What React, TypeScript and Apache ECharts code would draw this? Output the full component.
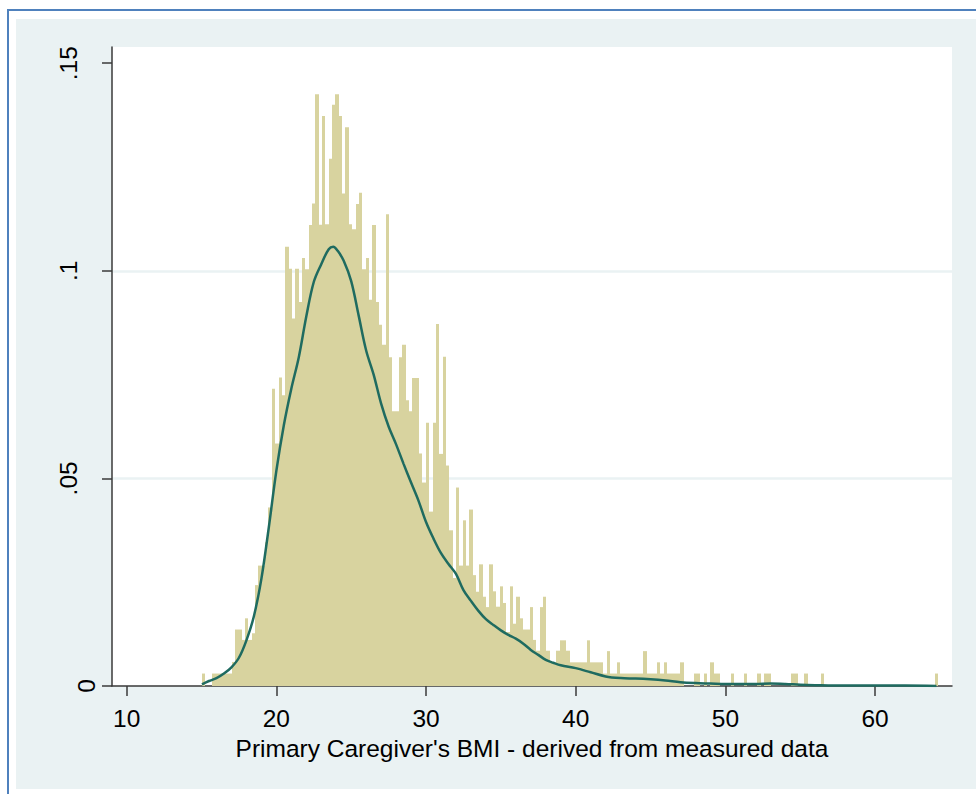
import React, { useEffect, useRef } from "react";
import * as echarts from "echarts";

// Histogram of primary caregiver BMI (density scale) with kernel density overlay.
const binStart = 15.0;
const binWidth = 0.2237;

const density = [
  0.0030, 0, 0, 0.0030, 0.0030, 0.0030, 0.0030, 0.0030, 0.0030, 0.0058,
  0.0136, 0.0136, 0.0111, 0.0163, 0.0111, 0.0127, 0.0243, 0.0290, 0.0290, 0.0346,
  0.0430, 0.0716, 0.0584, 0.0743, 0.0700, 0.1058, 0.1005, 0.0885, 0.1005, 0.0925,
  0.1031, 0.1004, 0.1110, 0.1162, 0.1425, 0.1111, 0.1373, 0.1112, 0.1270, 0.1400,
  0.1425, 0.1373, 0.1186, 0.1346, 0.1112, 0.1100, 0.1161, 0.1188, 0.1004, 0.1031,
  0.0930, 0.1110, 0.0925, 0.0870, 0.0822, 0.1136, 0.0792, 0.0662, 0.0662, 0.0792,
  0.0822, 0.0688, 0.0662, 0.0742, 0.0742, 0.0560, 0.0490, 0.0634, 0.0420, 0.0634,
  0.0872, 0.0559, 0.0793, 0.0531, 0.0375, 0.0260, 0.0478, 0.0290, 0.0399, 0.0290,
  0.0425, 0.0267, 0.0227, 0.0293, 0.0215, 0.0190, 0.0293, 0.0228, 0.0191, 0.0240,
  0.0200, 0.0130, 0.0240, 0.0150, 0.0215, 0.0163, 0.0136, 0.0136, 0.0190, 0.0111,
  0.0085, 0.0190, 0.0215, 0.0085, 0.0057, 0.0057, 0.0085, 0.0110, 0.0110, 0.0085,
  0.0057, 0.0057, 0.0057, 0.0057, 0.0057, 0.0110, 0.0057, 0.0057, 0.0057, 0.0057,
  0.0030, 0.0084, 0.0030, 0.0030, 0.0057, 0.0030, 0.0030, 0.0030, 0.0030, 0.0030,
  0.0030, 0.0030, 0.0084, 0.0030, 0.0030, 0.0030, 0.0057, 0.0030, 0.0057, 0.0030,
  0.0030, 0.0030, 0.0030, 0.0057, 0, 0, 0, 0.0030, 0.0030, 0,
  0.0030, 0, 0.0057, 0.0030, 0.0030, 0, 0, 0, 0.0030, 0,
  0, 0, 0.0030, 0, 0, 0, 0.0030, 0, 0.0030, 0.0030,
  0, 0, 0, 0, 0, 0, 0.0030, 0.0030, 0, 0,
  0.0030, 0, 0, 0, 0, 0.0030, 0, 0, 0, 0,
  0, 0, 0, 0, 0, 0, 0, 0, 0, 0,
  0, 0, 0, 0, 0, 0, 0, 0, 0, 0,
  0, 0, 0, 0, 0, 0, 0, 0, 0, 0.0030,
];

// Kernel density estimate, sampled along BMI.
const kdeX = [
  15.03, 15.5, 16.0, 16.5, 17.0, 17.5, 18.0, 18.5, 19.0, 19.5,
  20.0, 20.5, 21.0, 21.5, 22.0, 22.5, 23.0, 23.5, 23.8, 24.1,
  24.5, 25.0, 25.5, 26.0, 26.5, 27.0, 27.5, 28.0, 28.5, 29.0,
  29.5, 30.0, 30.5, 31.0, 31.5, 32.0, 32.5, 33.0, 33.5, 34.0,
  34.5, 35.0, 35.5, 36.0, 36.5, 37.0, 37.5, 38.0, 38.5, 39.0,
  40.0, 41.0, 42.0, 43.0, 44.0, 45.0, 46.0, 47.0, 48.0, 49.0,
  50.0, 51.0, 52.0, 53.0, 54.0, 55.0, 56.0, 58.0, 60.0, 62.0, 64.1,
];
const kdeY = [
  0.0004, 0.0012, 0.0019, 0.0030, 0.0045, 0.0068, 0.0110, 0.0168, 0.0258, 0.0383,
  0.0518, 0.0628, 0.0716, 0.0792, 0.0890, 0.0973, 0.1016, 0.1052, 0.1058, 0.1048,
  0.1024, 0.0975, 0.0892, 0.0808, 0.0750, 0.0680, 0.0625, 0.0582, 0.0535, 0.0490,
  0.0446, 0.0395, 0.0355, 0.0320, 0.0294, 0.0270, 0.0231, 0.0205, 0.0181, 0.0161,
  0.0147, 0.0134, 0.0123, 0.0114, 0.0102, 0.0087, 0.0075, 0.0063, 0.0056, 0.0050,
  0.0043, 0.0033, 0.0023, 0.0019, 0.0018, 0.0016, 0.0013, 0.0009, 0.0007, 0.0006,
  0.0005, 0.0005, 0.0005, 0.0006, 0.0005, 0.0003, 0.0002, 0.0001, 0.0001, 0.0001, 0.0,
];

const xTicks = [10, 20, 30, 40, 50, 60];
const yTicks = [0, 0.05, 0.1, 0.15];
const yTickLabels = ["0", ".05", ".1", ".15"];
const xTitle = "Primary Caregiver's BMI - derived from measured data";

// Axis ranges of the plot region
const X_MIN = 9.02;
const X_MAX = 65.14;
const Y_MAX = 0.1539;

// Horizontal centres of the vertical y tick labels
const yLabelCenterX = [86, 68, 68, 68];

const FONT = "Liberation Sans, Arial, Helvetica, sans-serif";
const FONT_SIZE = 24.5;
const AXIS_COLOR = "#3a3a3a";
const BAR_COLOR = "#d8d39f";
const KDE_COLOR = "#1f6b60";
const GRID_COLOR = "#eaf2f3";

export default function App() {
  const ref = useRef<HTMLDivElement>(null);

  useEffect(() => {
    if (!ref.current) return;
    const chart = echarts.init(ref.current, undefined, { renderer: "svg" });

    const barData = density.map((d, i) => [binStart + i * binWidth, d]);
    const kdeData = kdeX.map((x, i) => [x, kdeY[i]]);

    chart.setOption({
      animation: false,
      grid: {
        left: 112,
        top: 47,
        width: 840,
        height: 639,
        show: true,
        backgroundColor: "#ffffff",
        borderWidth: 0,
      },
      xAxis: {
        type: "value",
        min: X_MIN,
        max: X_MAX,
        axisLine: { show: true, onZero: false, lineStyle: { color: AXIS_COLOR, width: 1.5 } },
        axisTick: {
          show: true,
          length: 10,
          customValues: xTicks,
          lineStyle: { color: AXIS_COLOR, width: 1.5 },
        },
        axisLabel: {
          customValues: xTicks,
          margin: 20,
          fontSize: FONT_SIZE,
          fontFamily: FONT,
          color: "#000",
        },
        splitLine: { show: false },
        name: xTitle,
        nameLocation: "middle",
        nameGap: 44,
        nameTextStyle: { fontSize: FONT_SIZE, fontFamily: FONT, color: "#000" },
      },
      yAxis: {
        type: "value",
        min: 0,
        max: Y_MAX,
        interval: 0.05,
        axisLine: { show: true, onZero: false, lineStyle: { color: AXIS_COLOR, width: 1.5 } },
        axisTick: {
          show: true,
          length: 10,
          customValues: yTicks,
          lineStyle: { color: AXIS_COLOR, width: 1.5 },
        },
        axisLabel: { show: false },
        splitLine: {
          show: true,
          showMinLine: false,
          showMaxLine: false,
          lineStyle: { color: GRID_COLOR, width: 2.5 },
        },
      },
      series: [
        {
          type: "custom",
          name: "histogram",
          data: barData,
          encode: { x: 0, y: 1 },
          clip: true,
          renderItem: (params: any, api: any) => {
            const x0 = api.value(0);
            const y = api.value(1);
            if (!y) return null;
            const p0 = api.coord([x0, y]);
            const p1 = api.coord([x0 + binWidth, 0]);
            // snap bar edges to whole pixels so neighbouring bars meet cleanly
            const left = Math.round(p0[0]);
            const right = Math.round(p1[0]);
            return {
              type: "rect",
              shape: { x: left, y: p0[1], width: right - left, height: p1[1] - p0[1] },
              style: { fill: BAR_COLOR },
            };
          },
          z: 2,
        },
        {
          type: "line",
          name: "kdensity",
          data: kdeData,
          showSymbol: false,
          smooth: 0.35,
          lineStyle: { color: KDE_COLOR, width: 2.5 },
          z: 3,
        },
      ],
    });

    const labels = yTicks.map((v, i) => ({
      type: "text",
      x: yLabelCenterX[i],
      y: chart.convertToPixel({ yAxisIndex: 0 }, v) as number,
      rotation: Math.PI / 2,
      style: {
        text: yTickLabels[i],
        font: `${FONT_SIZE}px ${FONT}`,
        fill: "#000",
        textAlign: "center",
        textVerticalAlign: "middle",
      },
    }));
    chart.setOption({ graphic: labels });

    return () => chart.dispose();
  }, []);

  return (
    <div
      style={{
        position: "absolute",
        left: 0,
        top: 0,
        width: 976,
        height: 794,
        background: "#ffffff",
        overflow: "hidden",
      }}
    >
      <div
        style={{
          position: "absolute",
          left: 7,
          top: 9,
          width: 1000,
          height: 1000,
          border: "2px solid #4f81bd",
          boxSizing: "border-box",
        }}
      />
      <div
        style={{
          position: "absolute",
          left: 16,
          top: 19,
          width: 980,
          height: 770,
          background: GRID_COLOR,
        }}
      />
      <div ref={ref} style={{ position: "absolute", left: 0, top: 0, width: 976, height: 794 }} />
    </div>
  );
}
